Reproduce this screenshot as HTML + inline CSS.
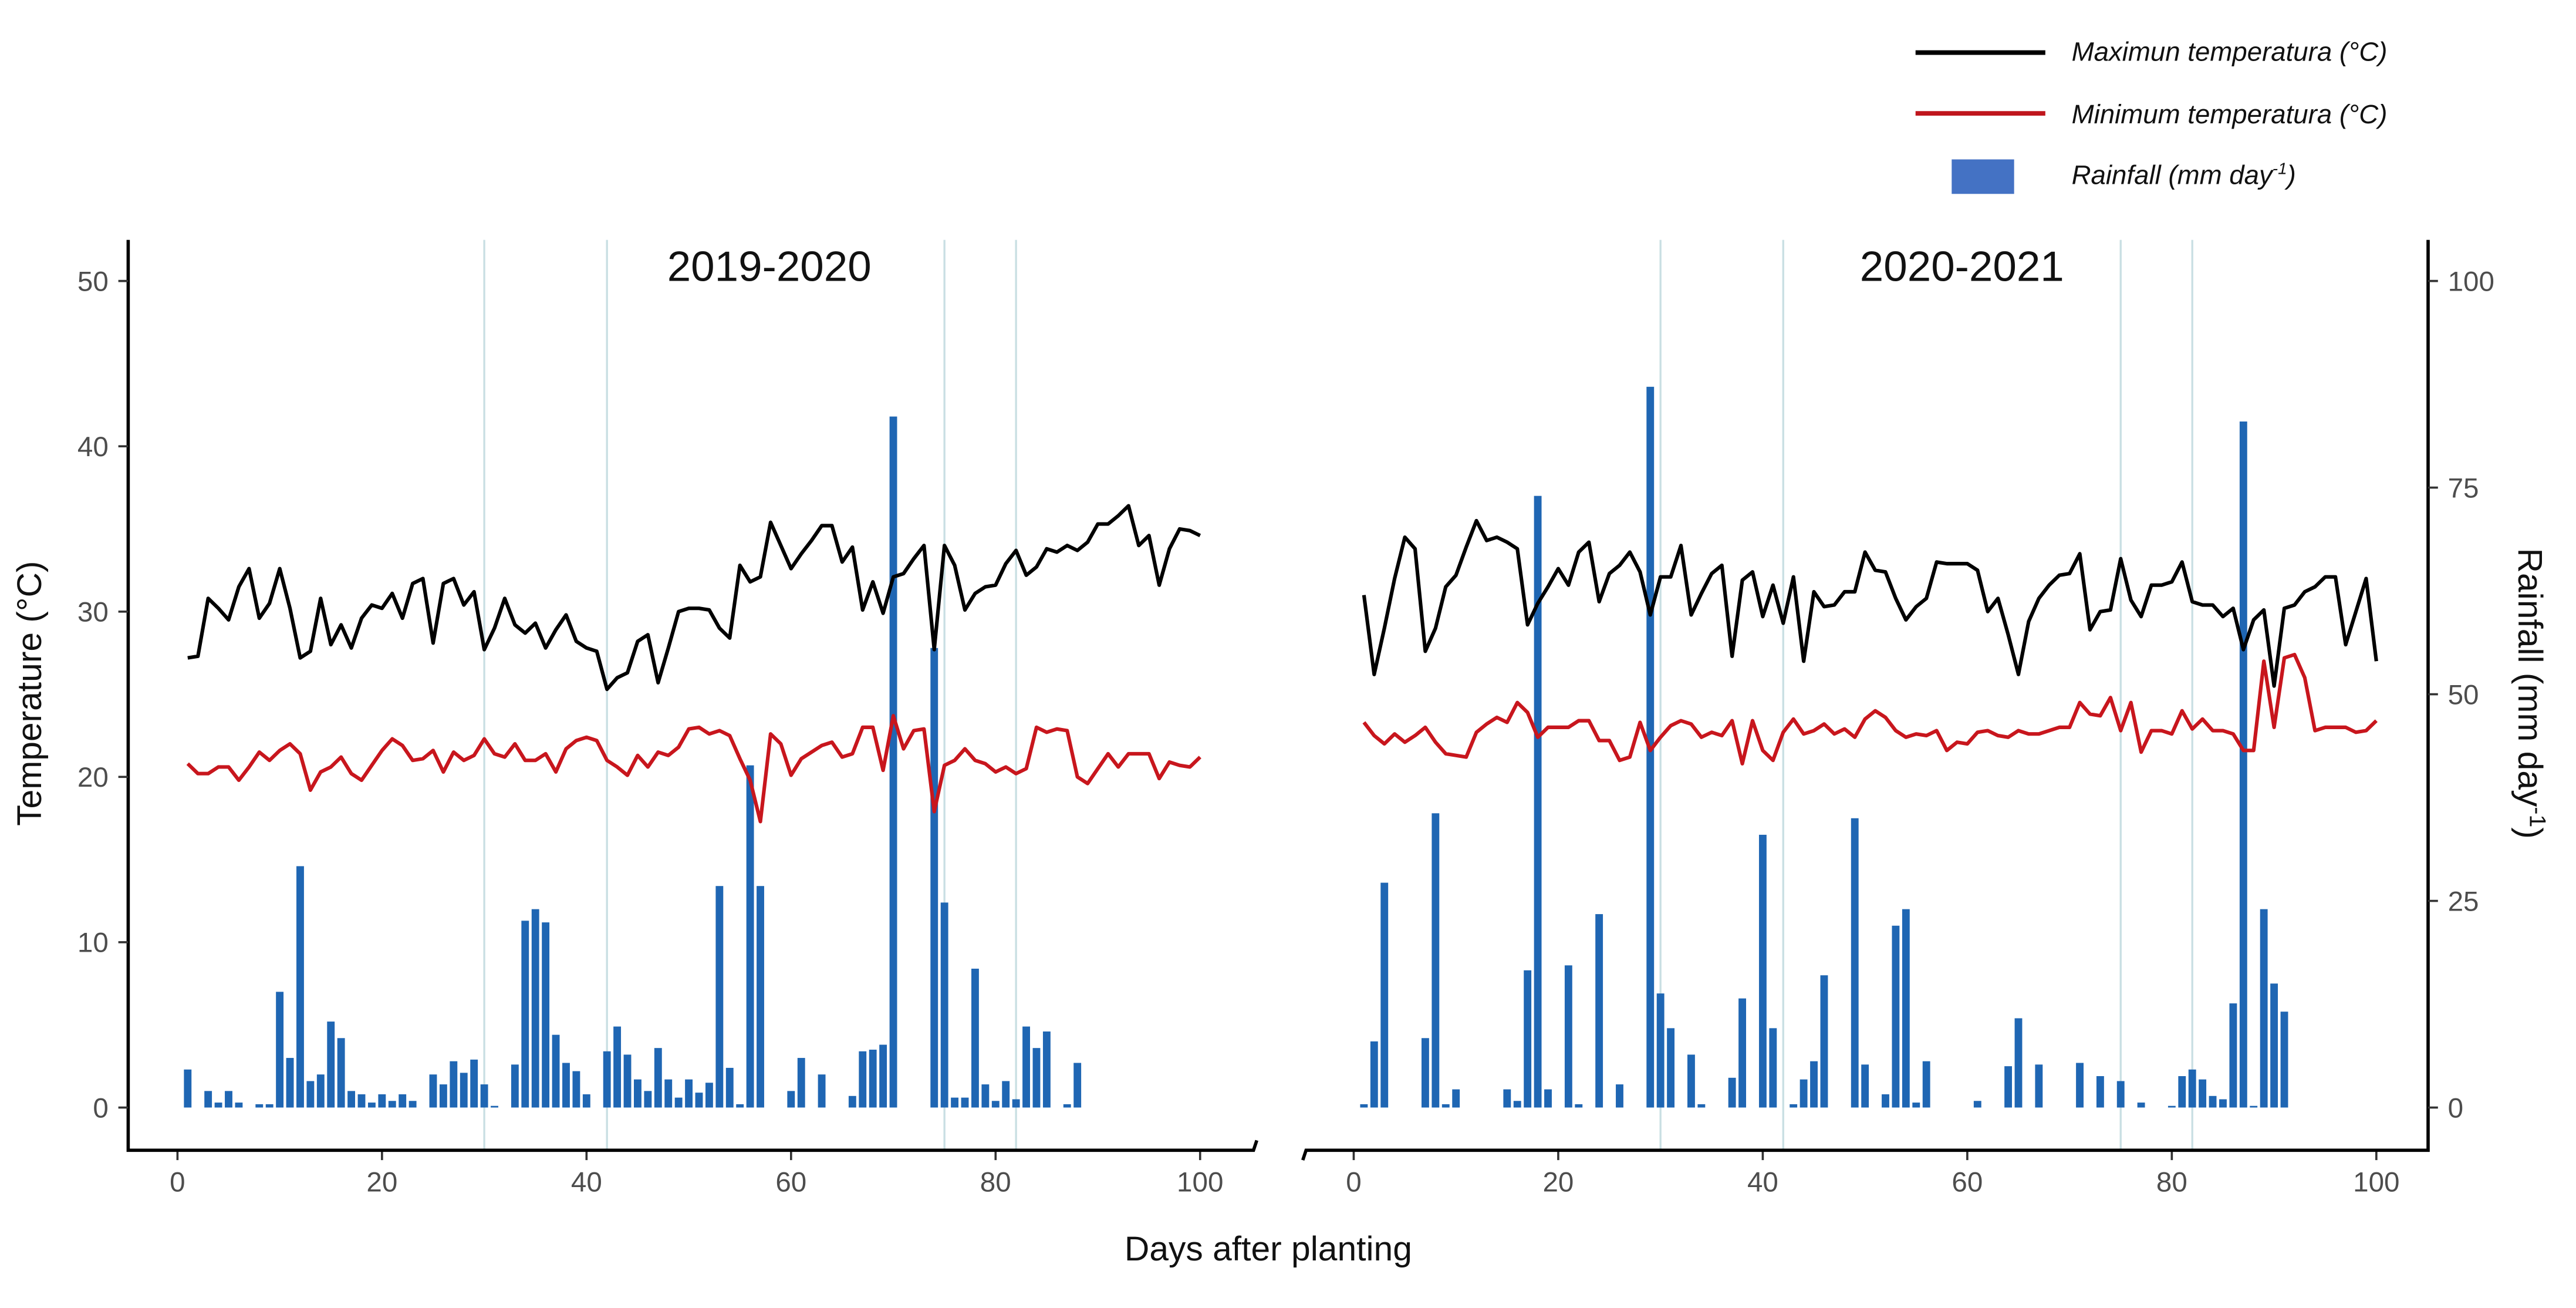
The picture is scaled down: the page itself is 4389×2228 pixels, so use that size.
<!DOCTYPE html>
<html><head><meta charset="utf-8"><style>
html,body{margin:0;padding:0;background:#fff;}
svg{display:block;font-family:"Liberation Sans",Arial,sans-serif;}
</style></head><body>
<svg id="chart" width="4389" height="2228" viewBox="0 0 1568 796" xmlns="http://www.w3.org/2000/svg">
<rect width="1568" height="796" fill="#fff"/>
<g id="legend">
  <line x1="1166" y1="32" x2="1245" y2="32" stroke="#000" stroke-width="2.8"/>
  <text x="1261" y="37" font-size="16.3" font-style="italic" fill="#111">Maximun temperatura (°C)</text>
  <line x1="1166" y1="69" x2="1245" y2="69" stroke="#c0161d" stroke-width="2.8"/>
  <text x="1261" y="75" font-size="16.3" font-style="italic" fill="#111">Minimum temperatura (°C)</text>
  <rect x="1188" y="97" width="38" height="21" fill="#4472c4"/>
  <text x="1261" y="112" font-size="16.3" font-style="italic" fill="#111">Rainfall (mm day<tspan dy="-6" font-size="10">-1</tspan><tspan dy="6">)</tspan></text>
</g>
<text x="25" y="422" font-size="21" fill="#111" text-anchor="middle" transform="rotate(-90 25 422)">Temperature (°C)</text>
<text x="1533" y="422" font-size="21" fill="#111" text-anchor="middle" transform="rotate(90 1533 422)">Rainfall (mm day<tspan dy="-7" font-size="14">-1</tspan><tspan dy="7">)</tspan></text>
<text x="772" y="767" font-size="21" fill="#111" text-anchor="middle">Days after planting</text>
<g id="plot"></g>
</svg>
<script>
const days = Array.from({length:100},(_, i)=>i+1);
const xTicks = [0,20,40,60,80,100];
const tempTicks = [0,10,20,30,40,50];
const rainTicks = [0,25,50,75,100];
const stageDays = [30,42,75,82];
const panelTitles = ["2019-2020","2020-2021"];

const tmax1 = [27.2,27.3,30.8,30.2,29.5,31.5,32.6,29.6,30.5,32.6,30.2,27.2,27.6,30.8,28.0,29.2,27.8,29.6,30.4,30.2,31.1,29.6,31.7,32.0,28.1,31.7,32.0,30.4,31.2,27.7,29.0,30.8,29.2,28.7,29.3,27.8,28.9,29.8,28.2,27.8,27.6,25.3,26.0,26.3,28.2,28.6,25.7,27.8,30.0,30.2,30.2,30.1,29.0,28.4,32.8,31.8,32.1,35.4,34.0,32.6,33.5,34.3,35.2,35.2,33.0,33.9,30.1,31.8,29.9,32.1,32.3,33.2,34.0,27.7,34.0,32.8,30.1,31.1,31.5,31.6,32.9,33.7,32.2,32.7,33.8,33.6,34.0,33.7,34.2,35.3,35.3,35.8,36.4,34.0,34.6,31.6,33.8,35.0,34.9,34.6];
const tmin1 = [20.8,20.2,20.2,20.6,20.6,19.8,20.6,21.5,21.0,21.6,22.0,21.4,19.2,20.3,20.6,21.2,20.2,19.8,20.7,21.6,22.3,21.9,21.0,21.1,21.6,20.3,21.5,21.0,21.3,22.3,21.4,21.2,22.0,21.0,21.0,21.4,20.3,21.7,22.2,22.4,22.2,21.0,20.6,20.1,21.3,20.6,21.5,21.3,21.8,22.9,23.0,22.6,22.8,22.5,21.1,19.8,17.3,22.6,22.0,20.1,21.1,21.5,21.9,22.1,21.2,21.4,23.0,23.0,20.4,23.7,21.7,22.8,22.9,17.9,20.7,21.0,21.7,21.0,20.8,20.3,20.6,20.2,20.5,23.0,22.7,22.9,22.8,20.0,19.6,20.5,21.4,20.6,21.4,21.4,21.4,19.9,20.9,20.7,20.6,21.2];
const rainDays1 = [1,3,4,5,6,8,9,10,11,12,13,14,15,16,17,18,19,20,21,22,23,25,26,27,28,29,30,31,33,34,35,36,37,38,39,40,42,43,44,45,46,47,48,49,50,51,52,53,54,55,56,57,60,61,63,66,67,68,69,70,74,75,76,77,78,79,80,81,82,83,84,85,87,88];
const rain1 = [4.6,2,0.6,2,0.6,0.4,0.4,14,6,29.2,3.2,4,10.4,8.4,2,1.6,0.6,1.6,0.8,1.6,0.8,4,2.8,5.6,4.2,5.8,2.8,0.2,5.2,22.6,24,22.4,8.8,5.4,4.4,1.6,6.8,9.8,6.4,3.4,2,7.2,3.4,1.2,3.4,1.8,3,26.8,4.8,0.4,41.4,26.8,2,6,4,1.4,6.8,7,7.6,83.6,55.6,24.8,1.2,1.2,16.8,2.8,0.8,3.2,1,9.8,7.2,9.2,0.4,5.4];

const tmax2 = [31.0,26.2,29.0,32.0,34.5,33.8,27.6,29.0,31.5,32.2,33.9,35.5,34.3,34.5,34.2,33.8,29.2,30.5,31.5,32.6,31.6,33.6,34.2,30.6,32.3,32.8,33.6,32.4,29.8,32.1,32.1,34.0,29.8,31.1,32.3,32.8,27.3,31.9,32.4,29.7,31.6,29.3,32.1,27.0,31.2,30.3,30.4,31.2,31.2,33.6,32.5,32.4,30.8,29.5,30.3,30.8,33.0,32.9,32.9,32.9,32.5,30.0,30.8,28.6,26.2,29.4,30.8,31.6,32.2,32.3,33.5,28.9,30.0,30.1,33.2,30.7,29.7,31.6,31.6,31.8,33.0,30.6,30.4,30.4,29.7,30.2,27.7,29.5,30.1,25.5,30.2,30.4,31.2,31.5,32.1,32.1,28.0,30.0,32.0,27.0];
const tmin2 = [23.3,22.5,22.0,22.6,22.1,22.5,23.0,22.1,21.4,21.3,21.2,22.7,23.2,23.6,23.3,24.5,23.9,22.4,23.0,23.0,23.0,23.4,23.4,22.2,22.2,21.0,21.2,23.3,21.6,22.4,23.1,23.4,23.2,22.4,22.7,22.5,23.4,20.8,23.4,21.6,21.0,22.7,23.5,22.6,22.8,23.2,22.6,22.9,22.4,23.5,24.0,23.6,22.8,22.4,22.6,22.5,22.8,21.6,22.1,22.0,22.7,22.8,22.5,22.4,22.8,22.6,22.6,22.8,23.0,23.0,24.5,23.8,23.7,24.8,22.8,24.5,21.5,22.8,22.8,22.6,24.0,22.9,23.5,22.8,22.8,22.6,21.6,21.6,27.0,23.0,27.2,27.4,26.0,22.8,23.0,23.0,23.0,22.7,22.8,23.4];
const rainDays2 = [1,2,3,7,8,9,10,15,16,17,18,19,21,22,24,26,29,30,31,33,34,37,38,40,41,43,44,45,46,49,50,52,53,54,55,56,61,64,65,67,71,73,75,77,80,81,82,83,84,85,86,87,88,89,90,91];
const rain2 = [0.4,8,27.2,8.4,35.6,0.4,2.2,2.2,0.8,16.6,74,2.2,17.2,0.4,23.4,2.8,87.2,13.8,9.6,6.4,0.4,3.6,13.2,33,9.6,0.4,3.4,5.6,16,35,5.2,1.6,22,24,0.6,5.6,0.8,5,10.8,5.2,5.4,3.8,3.2,0.6,0.2,3.8,4.6,3.4,1.4,1,12.6,83,0.2,24,15,11.6];

const NS="http://www.w3.org/2000/svg";
const plot=document.getElementById('plot');
function mk(tag,attrs,parent){const e=document.createElementNS(NS,tag);for(const k in attrs)e.setAttribute(k,attrs[k]);(parent||plot).appendChild(e);return e;}
const Y0=674, Y50=171;
function yT(t){return Y0+(Y50-Y0)*t/50;}
function yR(r){return Y0+(Y50-Y0)*r/100;}
const titleOffsets=[49,59];

function panel(idx,x0,tmax,tmin,rdays,rain){
  const xs=d=>x0+d*6.225;
  const g=mk('g',{});
  
  
  stageDays.forEach(d=>{
    const l=mk('line',{x1:xs(d),x2:xs(d),y1:146,y2:700,stroke:'#c9dfe3','stroke-width':1.2},g);
    
    
  });
  rdays.forEach((d,i)=>{
    const v=rain[i];
    const r=mk('rect',{x:xs(d)-2.3,width:4.6,y:yR(v),height:Math.max(0.8,Y0-yR(v)),fill:'#1f66b3'},g);
    
    
  });
  const pmax=mk('polyline',{points:days.map((d,i)=>xs(d)+','+yT(tmax[i])).join(' '),fill:'none',stroke:'#000','stroke-width':2.2,'stroke-linejoin':'round'},g);
  
  
  const pmin=mk('polyline',{points:days.map((d,i)=>xs(d)+','+yT(tmin[i])).join(' '),fill:'none',stroke:'#c8161d','stroke-width':2.2,'stroke-linejoin':'round'},g);
  
  
  xTicks.forEach(t=>{
    mk('line',{x1:xs(t),x2:xs(t),y1:700,y2:706,stroke:'#333','stroke-width':1.3},g);
    const tx=mk('text',{x:xs(t),y:725,'font-size':17,fill:'#4d4d4d','text-anchor':'middle'},g);
    tx.textContent=t;
    
    
  });
  const tt=mk('text',{x:xs(50)+titleOffsets[idx],y:171,'font-size':26,fill:'#111','text-anchor':'middle'},g);
  tt.textContent=panelTitles[idx];
  
  
}
panel(0,108,tmax1,tmin1,rainDays1,rain1);
panel(1,824,tmax2,tmin2,rainDays2,rain2);

const ax=mk('path',{d:'M78 146 L78 700 L763 700 L765 694',fill:'none',stroke:'#000','stroke-width':2});


const ax2=mk('path',{d:'M793 706 L795 700 L1478 700 L1478 146',fill:'none',stroke:'#000','stroke-width':2});


tempTicks.forEach(t=>{
  mk('line',{x1:72,x2:78,y1:yT(t),y2:yT(t),stroke:'#333','stroke-width':1.3});
  const tx=mk('text',{x:66,y:yT(t)+6,'font-size':17,fill:'#4d4d4d','text-anchor':'end'});
  tx.textContent=t;
  
  
});
rainTicks.forEach(t=>{
  mk('line',{x1:1478,x2:1484,y1:yR(t),y2:yR(t),stroke:'#333','stroke-width':1.3});
  const tx=mk('text',{x:1490,y:yR(t)+6,'font-size':17,fill:'#4d4d4d','text-anchor':'start'});
  tx.textContent=t;
  
  
});
</script>
</body></html>
